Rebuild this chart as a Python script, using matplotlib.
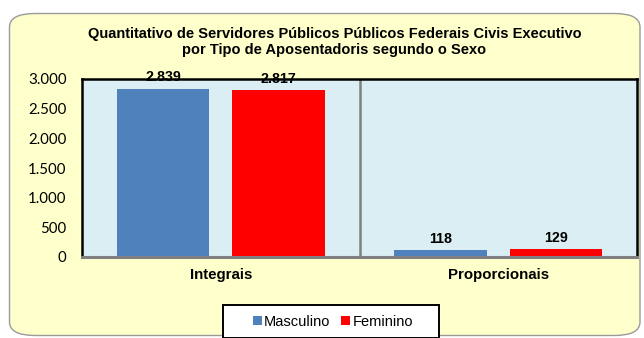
import matplotlib
matplotlib.use('Agg')
import matplotlib.pyplot as plt
from matplotlib.patches import FancyBboxPatch, Rectangle
from matplotlib.ticker import FuncFormatter
import numpy as np

categorias = ['Integrais', 'Proporcionais']
masculino = [2839, 118]
feminino = [2817, 129]
series = ['Masculino', 'Feminino']

AZUL = '#4F81BD'
VERMELHO = '#FF0000'

plt.rcParams['font.family'] = ['Liberation Sans', 'DejaVu Sans']

fig = plt.figure(figsize=(6.44, 3.38), dpi=100)
fig.patch.set_facecolor('white')

# moldura arredondada do grafico
moldura = FancyBboxPatch((9.5 / 644, 2.5 / 338), 630.5 / 644, 322 / 338,
                         boxstyle='round,pad=0,rounding_size=0.04',
                         transform=fig.transFigure, facecolor='#FFFFCC',
                         edgecolor='#9A9A9A', linewidth=1.0, zorder=-5)
fig.patches.append(moldura)

ax = fig.add_axes([82 / 644, 1 - 257 / 338, 555 / 644, 178 / 338], zorder=2)
ax.set_facecolor('#DAEEF3')

x = np.arange(len(categorias))
w = 0.332
off = 0.208
b1 = ax.bar(x - off, masculino, w, color=AZUL, label=series[0], zorder=2)
b2 = ax.bar(x + off, feminino, w, color=VERMELHO, label=series[1], zorder=2)

for barras, vals in ((b1, masculino), (b2, feminino)):
    for b, v in zip(barras, vals):
        ax.annotate(f'{v:,}'.replace(',', '.'),
                    (b.get_x() + b.get_width() / 2, v),
                    xytext=(0, 3), textcoords='offset points',
                    ha='center', va='bottom', fontsize=10.3, fontweight='bold',
                    zorder=5, annotation_clip=False)

ax.set_xlim(-0.5, 1.5)
ax.set_ylim(0, 3000)
ax.set_yticks(range(0, 3001, 500))
ax.yaxis.set_major_formatter(FuncFormatter(lambda v, p: f'{int(v):,}'.replace(',', '.')))
ax.set_xticks(x)
ax.set_xticklabels(categorias, fontsize=10.8, fontweight='bold')
ax.tick_params(axis='x', length=0, pad=8)
ax.tick_params(axis='y', length=0, pad=11)
for lbl in ax.get_yticklabels():
    lbl.set_fontfamily(['Lato', 'DejaVu Sans'])
    lbl.set_fontsize(10.8)

# divisao entre as categorias
ax.axvline(0.5, color='#808080', linewidth=1.8, zorder=1)

for lado in ('left', 'top', 'right'):
    ax.spines[lado].set_color('black')
    ax.spines[lado].set_linewidth(1.8)
ax.spines['bottom'].set_color('#808080')
ax.spines['bottom'].set_linewidth(2.2)

fig.text(334.5 / 644, 1 - 42 / 338,
         'Quantitativo de Servidores Públicos Públicos Federais Civis Executivo\n'
         'por Tipo de Aposentadoris segundo o Sexo',
         ha='center', va='center', fontsize=10.5, fontweight='bold',
         linespacing=1.25)

# caixa da legenda
caixa = Rectangle((223 / 644, 0), 216 / 644, 33 / 338, transform=fig.transFigure,
                  facecolor='white', edgecolor='black', linewidth=1.4, zorder=3)
fig.patches.append(caixa)

leg = fig.legend(handles=[b1, b2], labels=series, loc='center',
                 bbox_to_anchor=(333 / 644, 1 - 322 / 338), ncol=2,
                 frameon=False, fontsize=10.5,
                 handlelength=0.6, handleheight=0.6, handletextpad=0.15,
                 columnspacing=0.75, borderpad=0, borderaxespad=0)
leg.set_zorder(4)

fig.savefig('out.png', dpi=100)
